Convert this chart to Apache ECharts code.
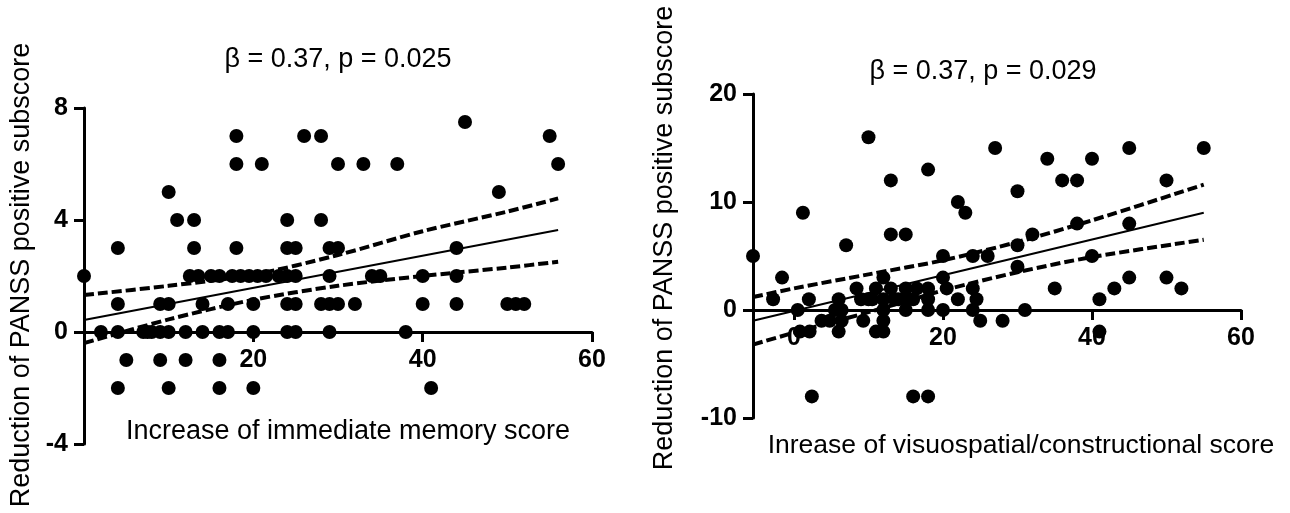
<!DOCTYPE html>
<html><head><meta charset="utf-8">
<script src="https://cdn.jsdelivr.net/npm/echarts@6/dist/echarts.min.js"></script>
<style>html,body{margin:0;padding:0;background:#fff}#c{width:1290px;height:513px}</style>
</head><body><div id="c"></div>
<script>
// ---------- Left panel data ----------
const leftTitle = 'β = 0.37, p = 0.025';
const leftXName = 'Increase of immediate memory score';
const yName = 'Reduction of PANSS positive subscore';
const leftPoints = [
  [0,2],[2,0],[4,3],[4,1],[4,0],[4,-2],[5,-1],[7,0],[7.5,0],[8,0],[9,0],[9,1],[9,-1],
  [10,5],[10,1],[10,0],[10,-2],[11,4],[12,0],[12,-1],[13,4],[13,3],[12.5,2],[13.5,2],
  [14,1],[14,0],[15,2],[16,2],[16,0],[16,-1],[16,-2],[17.5,2],[17,1],[17,0],
  [18,7],[18,6],[18,3],[18.5,2],[19.5,2],[20,1],[20,0],[20,-2],[21,6],[20.5,2],[21.5,2],
  [23,2],[24,4],[24,3],[24,2],[24,1],[24,0],[25,3],[25,2],[25,1],[25,0],
  [26,7],[28,7],[28,4],[28,1],[29,3],[29,2],[29,1],[29,0],[30,6],[30,3],[30,1],[32,1],
  [33,6],[34,2],[35,2],[37,6],[38,0],[40,2],[40,1],[41,-2],[44,3],[44,2],[44,1],
  [45,7.5],[49,5],[50,1],[51,1],[52,1],[55,7],[56,6]
];
const leftFitX = [0, 56];
const leftFitY = [0.43, 3.64];
const leftCiX = [0, 10, 20, 30, 40, 50, 56];
const leftUpperY = [1.32, 1.65, 2.05, 2.75, 3.6, 4.3, 4.77];
const leftLowerY = [-0.4, 0.45, 1.15, 1.65, 2.0, 2.3, 2.51];
const leftXTicks = [20, 40, 60];

// ---------- Right panel data ----------
const rightTitle = 'β = 0.37, p = 0.029';
const rightXName = 'Inrease of visuospatial/constructional score';
const rightPoints = [
  [-5.5,5],[-2.8,1],[-1.6,3],[0.5,0],[1.2,9],[2,1],[0.8,-2],[2.1,-2],[2.4,-8],[3.7,-1],
  [4.8,-1],[5.5,0],[6,1],[6.4,0],[6.4,-1],[6,-2],[7,6],[8.4,2],[9,1],[9.3,-1],[10,1],
  [10.5,1],[10,16],[11,-2],[11,2],[12,3],[12,1],[12,0],[12,-1],[12,-2],[13,12],[13,7],
  [13,2],[13.5,1],[14,1],[15,7],[15,2],[15,1],[15,0],[16,-8],[16.5,2],[16,1],[18,13],
  [18,-8],[18,2],[18,1],[18,0],[20,5],[20,3],[20.5,2],[20,0],[22,10],[23,9],[22,1],
  [24,5],[24,2],[24.5,1],[24,0],[25,-1],[26,5],[27,15],[28,-1],[30,11],[30,6],[30,4],
  [31,0],[32,7],[34,14],[35,2],[36,12],[38,12],[38,8],[40,14],[40,5],[41,1],[41,-2],
  [43,2],[45,15],[45,8],[45,3],[50,12],[50,3],[52,2],[55,15]
];
const rightFitX = [-5.5, 55];
const rightFitY = [-1.0, 9.0];
const rightCiX = [-5.5, 0, 10, 20, 30, 40, 55];
const rightUpperY = [1.2, 2.0, 3.3, 4.6, 6.3, 8.3, 11.6];
const rightLowerY = [-3.2, -2.1, -0.2, 1.8, 3.5, 4.9, 6.5];
const rightXTicks = [0, 20, 40, 60];

// ---------- build ----------
const zip = (xs, ys) => xs.map((x, i) => [x, ys[i]]);
const FONT = '"Liberation Sans", Arial, sans-serif';
const labelStyle = {color: '#000', fontSize: 25, fontWeight: 'bold', fontFamily: FONT};
const axLine = {lineStyle: {color: '#000', width: 3}};
const tickStyle = {color: '#000', width: 3};

// x axis sits on y = 0: shift it up from the grid bottom by the pixel distance of y=0
function xAxisCfg(grid, min, ticks, offset) {
  return {
    gridIndex: grid, type: 'value', min: min, max: 60, position: 'bottom', offset: offset,
    axisLine: Object.assign({onZero: false}, axLine),
    axisTick: {show: true, customValues: ticks, length: 10, lineStyle: tickStyle},
    axisLabel: Object.assign({customValues: ticks, margin: 16}, labelStyle),
    splitLine: {show: false}
  };
}
function yAxisCfg(grid, min, max, interval) {
  return {
    gridIndex: grid, type: 'value', min: min, max: max, interval: interval,
    axisLine: Object.assign({show: true, onZero: false}, axLine),
    axisTick: {show: true, length: 10, lineStyle: tickStyle},
    axisLabel: Object.assign({margin: 16}, labelStyle),
    splitLine: {show: false}
  };
}
function scatter(idx, pts) {
  return {type: 'scatter', xAxisIndex: idx, yAxisIndex: idx, data: pts,
    symbol: 'circle', symbolSize: 14, itemStyle: {color: '#000', opacity: 1}, z: 2, silent: true};
}
function line(idx, pts, dashed) {
  return {type: 'line', xAxisIndex: idx, yAxisIndex: idx, data: pts, showSymbol: false,
    symbol: 'none', smooth: dashed ? 0.3 : false, z: 3, silent: true,
    lineStyle: dashed ? {color: '#000', width: 4, type: [10, 4]} : {color: '#000', width: 2}};
}
function txt(text, x, y, size, rot) {
  return {type: 'text', x: x, y: y, rotation: rot || 0, silent: true,
    style: {text: text, fill: '#000', font: size + 'px ' + FONT, align: 'center', verticalAlign: 'middle'}};
}

const chart = echarts.init(document.getElementById('c'), null, {renderer: 'canvas'});
chart.setOption({
  animation: false,
  backgroundColor: '#fff',
  grid: [
    {left: 84, right: 698, top: 108, bottom: 69},
    {left: 753, right: 49, top: 94, bottom: 95}
  ],
  xAxis: [xAxisCfg(0, 0, leftXTicks, -112), xAxisCfg(1, -5.5, rightXTicks, -108)],
  yAxis: [yAxisCfg(0, -4, 8, 4), yAxisCfg(1, -10, 20, 10)],
  series: [
    scatter(0, leftPoints),
    line(0, zip(leftFitX, leftFitY), false),
    line(0, zip(leftCiX, leftUpperY), true),
    line(0, zip(leftCiX, leftLowerY), true),
    scatter(1, rightPoints),
    line(1, zip(rightFitX, rightFitY), false),
    line(1, zip(rightCiX, rightUpperY), true),
    line(1, zip(rightCiX, rightLowerY), true)
  ],
  graphic: [
    txt(leftTitle, 338, 60, 27),
    txt(rightTitle, 983, 72, 27),
    txt(leftXName, 348, 432, 27),
    txt(rightXName, 1021, 446, 26.5),
    txt(yName, 22, 275, 27, Math.PI / 2),
    txt(yName, 665, 238, 27, Math.PI / 2)
  ]
});
</script></body></html>
